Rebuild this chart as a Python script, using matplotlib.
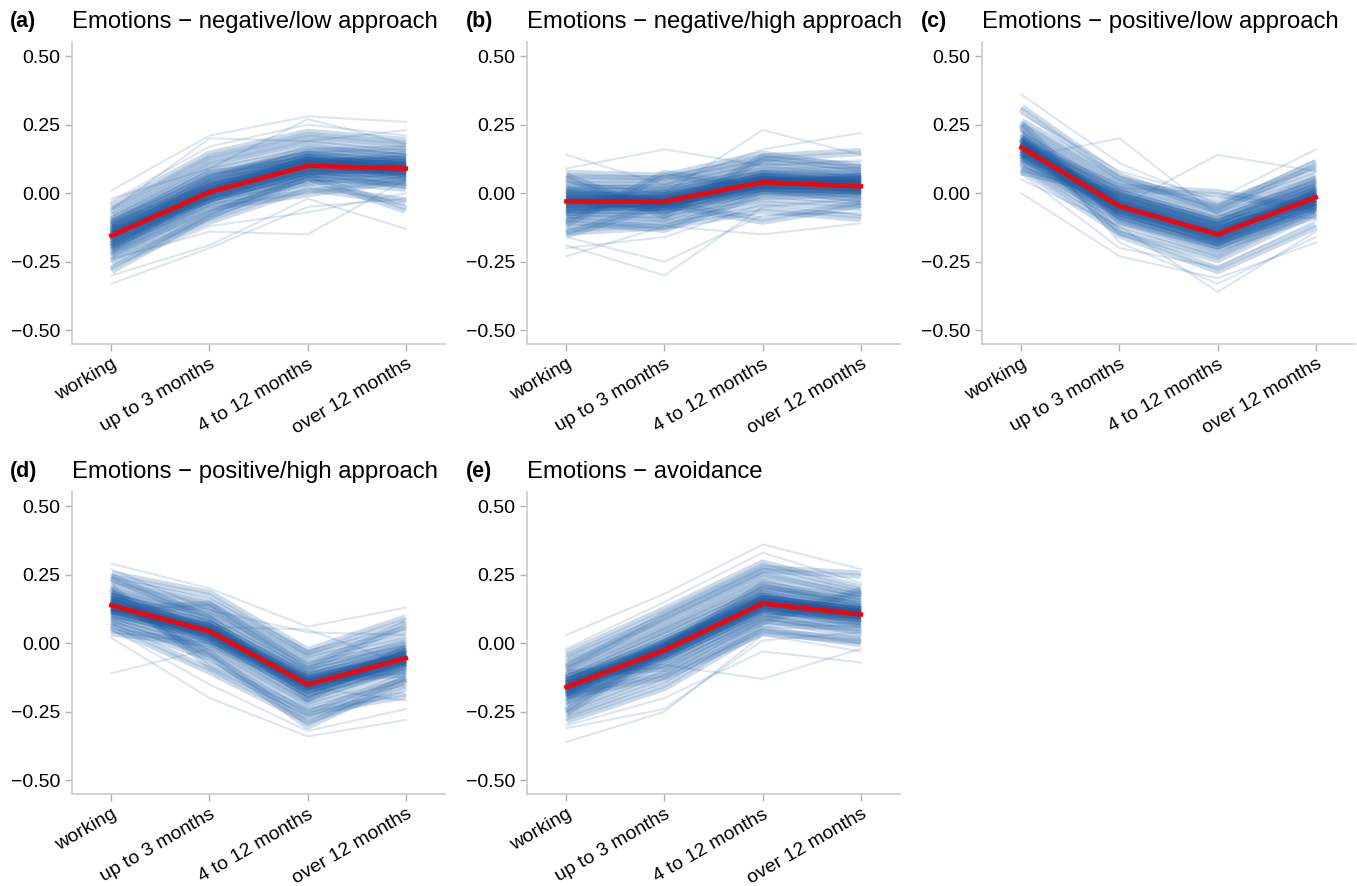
import matplotlib.pyplot as plt

plt.rcParams['font.family'] = ['Liberation Sans', 'DejaVu Sans']

stages = ["working", "up to 3 months", "4 to 12 months", "over 12 months"]

titles = ["Emotions \u2212 negative/low approach",
          "Emotions \u2212 negative/high approach",
          "Emotions \u2212 positive/low approach",
          "Emotions \u2212 positive/high approach",
          "Emotions \u2212 avoidance"]
letters = ["(a)", "(b)", "(c)", "(d)", "(e)"]

# average trajectory for each emotion group
mean_neg_low = [-0.155, 0.004, 0.100, 0.090]
mean_neg_high = [-0.030, -0.030, 0.040, 0.025]
mean_pos_low = [0.167, -0.047, -0.150, -0.015]
mean_pos_high = [0.138, 0.044, -0.150, -0.055]
mean_avoid = [-0.160, -0.025, 0.145, 0.105]

# resampled trajectories
samples_neg_low = [
    [-0.33, -0.20, -0.05, -0.02], [0.01, 0.21, 0.28, 0.26], [-0.30, -0.19, -0.02, -0.13],
    [-0.27, -0.12, -0.07, 0.00], [-0.25, -0.10, 0.02, -0.03], [-0.23, -0.08, 0.05, 0.02],
    [-0.22, -0.05, 0.00, 0.05], [-0.21, -0.06, 0.06, 0.04], [-0.20, -0.03, 0.04, 0.07],
    [-0.19, -0.02, 0.08, 0.03], [-0.18, -0.01, 0.07, 0.10], [-0.17, 0.00, 0.10, 0.06],
    [-0.16, 0.01, 0.09, 0.11], [-0.15, 0.02, 0.12, 0.08], [-0.15, 0.00, 0.11, 0.12],
    [-0.14, 0.03, 0.13, 0.09], [-0.13, 0.04, 0.10, 0.14], [-0.12, 0.06, 0.14, 0.11],
    [-0.11, 0.05, 0.16, 0.13], [-0.10, 0.08, 0.15, 0.16], [-0.09, 0.10, 0.18, 0.14],
    [-0.07, 0.12, 0.20, 0.17], [-0.05, 0.14, 0.22, 0.19], [-0.03, 0.17, 0.25, 0.21],
    [-0.06, 0.20, 0.19, 0.23], [-0.24, -0.14, -0.15, 0.05], [-0.02, 0.09, 0.27, 0.18],
    [-0.28, -0.08, 0.06, -0.06],
    [-0.17, -0.01, 0.09, 0.08], [-0.16, 0.00, 0.10, 0.09], [-0.15, 0.01, 0.11, 0.10],
    [-0.14, 0.02, 0.11, 0.08], [-0.13, 0.03, 0.12, 0.10], [-0.18, -0.02, 0.08, 0.07],
    [-0.19, -0.03, 0.07, 0.08], [-0.12, 0.02, 0.13, 0.12], [-0.16, 0.05, 0.14, 0.11],
    [-0.14, -0.02, 0.08, 0.09], [-0.20, 0.01, 0.12, 0.06], [-0.11, 0.07, 0.12, 0.10],
]
samples_neg_high = [
    [-0.23, -0.12, -0.15, -0.11], [0.14, 0.03, 0.16, 0.22], [-0.19, -0.30, -0.05, -0.02],
    [-0.16, -0.25, -0.08, -0.07], [-0.14, -0.12, -0.06, -0.09], [-0.12, -0.10, -0.03, -0.05],
    [-0.10, -0.13, 0.00, -0.03], [-0.09, -0.07, -0.01, 0.00], [-0.08, -0.09, 0.02, -0.02],
    [-0.07, -0.05, 0.01, 0.02], [-0.06, -0.06, 0.04, 0.00], [-0.05, -0.03, 0.03, 0.03],
    [-0.04, -0.04, 0.05, 0.01], [-0.03, -0.02, 0.06, 0.04], [-0.02, -0.03, 0.04, 0.05],
    [-0.01, 0.00, 0.07, 0.03], [0.00, -0.01, 0.06, 0.06], [0.01, 0.02, 0.09, 0.05],
    [0.02, 0.01, 0.08, 0.08], [0.03, 0.03, 0.11, 0.07], [0.05, 0.05, 0.12, 0.10],
    [0.07, 0.06, 0.14, 0.09], [0.09, 0.16, 0.10, 0.12], [0.04, 0.00, 0.23, 0.14],
    [-0.11, 0.07, 0.02, 0.06], [0.06, -0.08, 0.13, 0.15], [-0.15, -0.04, -0.10, -0.04],
    [-0.20, -0.16, -0.04, -0.08],
    [-0.04, -0.03, 0.03, 0.02], [-0.03, -0.04, 0.04, 0.03], [-0.02, -0.02, 0.05, 0.02],
    [-0.05, -0.05, 0.02, 0.01], [-0.01, -0.01, 0.05, 0.04], [-0.03, -0.02, 0.06, 0.03],
    [-0.06, -0.04, 0.03, 0.04], [0.00, -0.03, 0.02, 0.01], [-0.04, 0.00, 0.07, 0.05],
    [-0.02, -0.06, 0.01, 0.00], [-0.07, -0.02, 0.05, 0.03], [0.01, -0.04, 0.04, 0.06],
]
samples_pos_low = [
    [0.36, 0.11, -0.04, 0.12], [0.00, -0.23, -0.31, -0.18], [0.13, 0.20, -0.08, -0.09],
    [0.10, -0.05, 0.14, 0.08], [0.05, -0.12, -0.36, -0.14], [0.07, -0.20, -0.27, -0.10],
    [0.09, -0.14, -0.24, -0.07], [0.11, -0.11, -0.22, -0.05], [0.12, -0.09, -0.20, -0.08],
    [0.13, -0.08, -0.18, -0.03], [0.14, -0.07, -0.17, -0.06], [0.15, -0.06, -0.16, -0.01],
    [0.16, -0.05, -0.15, -0.02], [0.17, -0.04, -0.14, 0.00], [0.18, -0.03, -0.13, -0.03],
    [0.19, -0.02, -0.12, 0.02], [0.20, -0.01, -0.11, 0.01], [0.21, 0.00, -0.10, 0.04],
    [0.22, 0.01, -0.08, 0.03], [0.24, 0.03, -0.06, 0.06], [0.26, 0.05, -0.04, 0.09],
    [0.29, 0.08, -0.02, 0.16], [0.31, 0.06, -0.06, 0.11], [0.20, -0.15, -0.28, -0.12],
    [0.25, -0.10, -0.19, -0.04], [0.08, 0.00, -0.10, 0.05], [0.18, 0.02, 0.00, -0.06],
    [0.23, -0.18, -0.33, -0.16],
    [0.16, -0.05, -0.15, -0.02], [0.17, -0.04, -0.14, -0.01], [0.18, -0.05, -0.16, -0.02],
    [0.15, -0.06, -0.15, 0.00], [0.17, -0.03, -0.13, -0.03], [0.14, -0.07, -0.17, -0.03],
    [0.19, -0.04, -0.16, 0.00], [0.16, -0.02, -0.12, -0.01], [0.20, -0.06, -0.18, -0.04],
    [0.13, -0.04, -0.14, 0.01], [0.18, -0.08, -0.19, -0.05], [0.15, -0.01, -0.11, 0.02],
]
samples_pos_high = [
    [0.29, 0.20, 0.06, 0.13], [-0.11, -0.02, -0.16, -0.21], [0.02, -0.20, -0.34, -0.28],
    [0.05, -0.15, -0.32, -0.24], [0.06, -0.10, -0.28, -0.16], [0.07, -0.05, -0.26, -0.12],
    [0.08, -0.03, -0.23, -0.14], [0.09, -0.01, -0.21, -0.10], [0.10, 0.01, -0.20, -0.08],
    [0.11, 0.02, -0.18, -0.09], [0.12, 0.03, -0.17, -0.06], [0.13, 0.04, -0.16, -0.07],
    [0.14, 0.05, -0.15, -0.04], [0.15, 0.06, -0.14, -0.05], [0.16, 0.07, -0.12, -0.03],
    [0.17, 0.08, -0.11, -0.02], [0.18, 0.10, -0.10, 0.00], [0.19, 0.11, -0.08, -0.01],
    [0.21, 0.13, -0.06, 0.02], [0.23, 0.15, -0.04, 0.05], [0.25, 0.18, -0.03, 0.09],
    [0.27, 0.12, 0.04, 0.03], [0.20, -0.08, -0.25, -0.19], [0.04, 0.00, -0.13, -0.11],
    [0.24, 0.09, -0.20, -0.02], [0.12, 0.14, -0.09, 0.07], [0.16, -0.04, -0.30, -0.13],
    [0.09, 0.06, 0.05, -0.08],
    [0.14, 0.04, -0.15, -0.06], [0.13, 0.05, -0.14, -0.05], [0.15, 0.03, -0.16, -0.06],
    [0.12, 0.04, -0.15, -0.04], [0.14, 0.06, -0.13, -0.05], [0.16, 0.05, -0.16, -0.07],
    [0.13, 0.02, -0.17, -0.06], [0.11, 0.03, -0.14, -0.03], [0.17, 0.07, -0.12, -0.04],
    [0.15, 0.01, -0.18, -0.08], [0.12, 0.06, -0.15, -0.07], [0.18, 0.04, -0.13, -0.05],
]
samples_avoid = [
    [-0.36, -0.25, 0.03, -0.03], [0.03, 0.18, 0.36, 0.27], [-0.22, -0.08, -0.13, -0.02],
    [-0.31, -0.24, 0.01, 0.04], [-0.28, -0.16, 0.05, 0.00], [-0.26, -0.13, 0.07, 0.06],
    [-0.24, -0.10, 0.09, 0.03], [-0.22, -0.07, 0.11, 0.08], [-0.21, -0.06, 0.10, 0.05],
    [-0.20, -0.05, 0.12, 0.09], [-0.19, -0.04, 0.13, 0.07], [-0.18, -0.03, 0.14, 0.11],
    [-0.17, -0.02, 0.15, 0.10], [-0.16, -0.01, 0.16, 0.12], [-0.15, 0.00, 0.17, 0.13],
    [-0.14, 0.01, 0.18, 0.11], [-0.13, 0.02, 0.19, 0.14], [-0.12, 0.04, 0.20, 0.15],
    [-0.10, 0.05, 0.22, 0.13], [-0.08, 0.07, 0.24, 0.17], [-0.06, 0.09, 0.26, 0.18],
    [-0.04, 0.12, 0.29, 0.20], [-0.02, 0.15, 0.33, 0.22], [-0.25, -0.02, 0.21, 0.16],
    [-0.11, -0.09, 0.08, 0.19], [-0.30, -0.20, -0.03, -0.07], [-0.09, 0.10, 0.27, 0.25],
    [-0.19, -0.12, 0.04, 0.01],
    [-0.16, -0.02, 0.15, 0.10], [-0.15, -0.03, 0.14, 0.11], [-0.17, -0.01, 0.15, 0.11],
    [-0.16, -0.04, 0.13, 0.10], [-0.14, -0.02, 0.16, 0.12], [-0.18, -0.03, 0.14, 0.09],
    [-0.17, 0.00, 0.17, 0.10], [-0.15, -0.05, 0.12, 0.10], [-0.13, 0.00, 0.16, 0.12],
    [-0.19, -0.04, 0.13, 0.08], [-0.14, -0.01, 0.17, 0.11], [-0.18, -0.02, 0.15, 0.12],
]

means = [mean_neg_low, mean_neg_high, mean_pos_low, mean_pos_high, mean_avoid]
samples = [samples_neg_low, samples_neg_high, samples_pos_low, samples_pos_high, samples_avoid]

fig = plt.figure(figsize=(13.57, 8.86), dpi=100)

lefts = [0.0531, 0.3884, 0.7237]
letter_x = [10 / 1357, 466 / 1357, 921 / 1357]
bottoms = [0.6117, 0.1038]
w, h = 0.2749, 0.3405

for i in range(5):
    row, col = divmod(i, 3)
    ax = fig.add_axes([lefts[col], bottoms[row], w, h])
    x = range(len(stages))
    for s in samples[i]:
        ax.plot(x, s, color='#1a5ba3', alpha=0.15, lw=1.5)
        # trajectories close to the average get a wide pass too, so the
        # crowded middle fills in like a ribbon while strays stay faint
        dev = max(abs(a - b) for a, b in zip(s, means[i]))
        if dev <= 0.15:
            ax.plot(x, s, color='#1a5ba3', alpha=0.22, lw=6.0, solid_capstyle='butt')
    ax.plot(x, means[i], color='#ff0000', lw=3.2, zorder=5)

    ax.set_xlim(-0.4, 3.4)
    ax.set_ylim(-0.55, 0.55)
    ax.set_yticks([-0.5, -0.25, 0, 0.25, 0.5])
    ax.set_yticklabels(["\u22120.50", "\u22120.25", "0.00", "0.25", "0.50"])
    ax.set_xticks(list(x))
    ax.set_xticklabels(stages, rotation=30, ha='right', rotation_mode='anchor')
    ax.tick_params(labelsize=14, color='#b0b0b0', length=5, width=1)
    for side in ['top', 'right']:
        ax.spines[side].set_visible(False)
    for side in ['left', 'bottom']:
        ax.spines[side].set_color('#cccccc')
        ax.spines[side].set_linewidth(1.2)

    ax.set_title(titles[i], loc='left', fontsize=17.2, pad=10)
    top = bottoms[row] + h
    fig.text(letter_x[col], top + 0.012, letters[i], fontsize=15.5, fontweight='bold',
             ha='left', va='bottom')

fig.savefig("out.png", dpi=100)
